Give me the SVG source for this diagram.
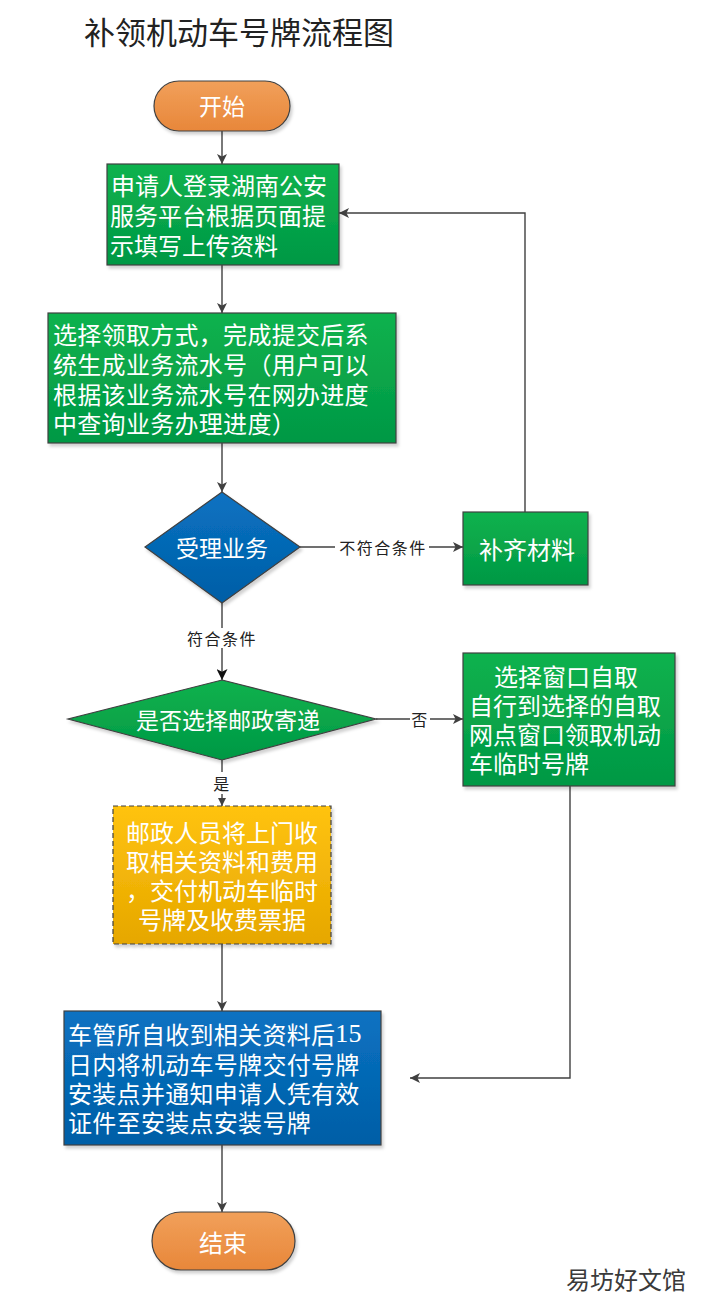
<svg xmlns="http://www.w3.org/2000/svg" width="712" height="1310" viewBox="0 0 712 1310">
<defs>
<linearGradient id="gGreen" x1="0" y1="0" x2="0" y2="1"><stop offset="0" stop-color="#10b24e"/><stop offset="1" stop-color="#009844"/></linearGradient>
<linearGradient id="gBlue" x1="0" y1="0" x2="0" y2="1"><stop offset="0" stop-color="#0a72c2"/><stop offset="1" stop-color="#005ea6"/></linearGradient>
<linearGradient id="gOrange" x1="0" y1="0" x2="0" y2="1"><stop offset="0" stop-color="#f1a05a"/><stop offset="1" stop-color="#e8873a"/></linearGradient>
<linearGradient id="gYellow" x1="0" y1="0" x2="0" y2="1"><stop offset="0" stop-color="#ffc30f"/><stop offset="1" stop-color="#e6a700"/></linearGradient>
<filter id="sh" x="-10%" y="-10%" width="130%" height="130%"><feDropShadow dx="2" dy="3" stdDeviation="1.5" flood-color="#000" flood-opacity="0.18"/></filter>
<marker id="ar" viewBox="0 0 10 10" refX="10" refY="5" markerWidth="10" markerHeight="10" markerUnits="userSpaceOnUse" orient="auto"><path d="M0,0 L10,5 L0,10 L2.5,5 Z" fill="#404040"/></marker>
<marker id="arB" viewBox="0 0 10 10" refX="10" refY="5" markerWidth="11" markerHeight="11" markerUnits="userSpaceOnUse" orient="auto"><path d="M0,0 L10,5 L0,10 L2.5,5 Z" fill="#111"/></marker>
<marker id="arS" viewBox="0 0 10 10" refX="10" refY="5" markerWidth="8" markerHeight="8" markerUnits="userSpaceOnUse" orient="auto"><path d="M0,0 L10,5 L0,10 Z" fill="#404040"/></marker>
</defs>
<style>
.t{font-family:"Noto Sans CJK SC","Liberation Sans",sans-serif;fill:#fff;dominant-baseline:central}
.c{text-anchor:middle}
.box{stroke:#404040;stroke-width:1.2}
.ln{fill:none;stroke:#404040;stroke-width:1.4}
.lb{font-family:"Noto Sans CJK SC","Liberation Sans",sans-serif;fill:#222;font-size:16px;text-anchor:middle;dominant-baseline:central;letter-spacing:1.5px}
</style>
<rect width="712" height="1310" fill="#fff"/>
<text id="title" x="84" y="30" font-family="Noto Sans CJK SC, Liberation Sans, sans-serif" font-size="31" fill="#222" dominant-baseline="central">补领机动车号牌流程图</text>

<g id="connectors">
<line class="ln" x1="222" y1="131" x2="222" y2="164" marker-end="url(#ar)"/>
<line class="ln" x1="222" y1="265" x2="222" y2="313" marker-end="url(#ar)"/>
<line class="ln" x1="222" y1="443" x2="222" y2="492" marker-end="url(#ar)"/>
<line class="ln" x1="300" y1="547" x2="463" y2="547" marker-end="url(#ar)"/>
<rect x="335" y="537" width="94" height="20" fill="#fff"/>
<text class="lb" x="383" y="547">不符合条件</text>
<polyline class="ln" points="525,512 525,213 339,213" marker-end="url(#ar)"/>
<line class="ln" x1="222" y1="603" x2="222" y2="680" stroke="#111" marker-end="url(#arB)"/>
<rect x="184" y="628" width="76" height="20" fill="#fff"/>
<text class="lb" x="222" y="638">符合条件</text>
<line class="ln" x1="376" y1="719" x2="463" y2="719" marker-end="url(#ar)"/>
<rect x="410" y="709" width="20" height="20" fill="#fff"/>
<text class="lb" x="420" y="719">否</text>
<line class="ln" x1="222" y1="760" x2="222" y2="806" marker-end="url(#arS)"/>
<rect x="210" y="772" width="24" height="22" fill="#fff"/>
<text class="lb" x="222" y="783" font-size="18">是</text>
<line class="ln" x1="222" y1="944" x2="222" y2="1011" marker-end="url(#ar)"/>
<polyline class="ln" points="570,786 570,1078 410,1078" marker-end="url(#ar)"/>
<line class="ln" x1="222" y1="1145" x2="222" y2="1212" marker-end="url(#ar)"/>
</g>

<g id="start">
<rect class="box" x="154" y="81" width="136" height="50" rx="25" fill="url(#gOrange)" filter="url(#sh)"/>
<text class="t c" x="222" y="105" font-size="23">开始</text>
</g>

<g id="login">
<rect class="box" x="107" y="164" width="232" height="101" fill="url(#gGreen)" filter="url(#sh)"/>
<text class="t" font-size="24"><tspan x="111" y="184">申请人登录湖南公安</tspan><tspan x="110" y="214">服务平台根据页面提</tspan><tspan x="110" y="244">示填写上传资料</tspan></text>
</g>

<g id="choose">
<rect class="box" x="48" y="313" width="348" height="130" fill="url(#gGreen)" filter="url(#sh)"/>
<text class="t" font-size="24" letter-spacing="0.3"><tspan x="53" y="333">选择领取方式，完成提交后系</tspan><tspan x="53" y="363">统生成业务流水号（用户可以</tspan><tspan x="53" y="393">根据该业务流水号在网办进度</tspan><tspan x="53" y="422">中查询业务办理进度）</tspan></text>
</g>

<g id="accept">
<polygon class="box" points="222,492 300,547 222,603 145,547" fill="url(#gBlue)" filter="url(#sh)"/>
<text class="t c" x="222" y="547" font-size="23">受理业务</text>
</g>

<g id="supplement">
<rect class="box" x="463" y="512" width="125" height="73" fill="url(#gGreen)" filter="url(#sh)"/>
<text class="t c" x="527" y="548" font-size="24">补齐材料</text>
</g>

<g id="postal">
<polygon class="box" points="222,680 376,719 222,760 68,719" fill="url(#gGreen)" filter="url(#sh)"/>
<text class="t c" x="228" y="719" font-size="23">是否选择邮政寄递</text>
</g>

<g id="window">
<rect class="box" x="463" y="653" width="212" height="133" fill="url(#gGreen)" filter="url(#sh)"/>
<text class="t" font-size="24"><tspan x="566" y="675" text-anchor="middle">选择窗口自取</tspan><tspan x="469" y="704">自行到选择的自取</tspan><tspan x="469" y="733">网点窗口领取机动</tspan><tspan x="469" y="762">车临时号牌</tspan></text>
</g>

<g id="postman">
<rect class="box" x="113" y="806" width="218" height="138" fill="url(#gYellow)" stroke-dasharray="5,3" filter="url(#sh)"/>
<text class="t c" font-size="24"><tspan x="222" y="831">邮政人员将上门收</tspan><tspan x="222" y="860">取相关资料和费用</tspan><tspan x="222" y="889">，交付机动车临时</tspan><tspan x="222" y="918">号牌及收费票据</tspan></text>
</g>

<g id="dmv">
<rect class="box" x="64" y="1011" width="317" height="134" fill="url(#gBlue)" filter="url(#sh)"/>
<text class="t" font-size="24" letter-spacing="0.3"><tspan x="68" y="1033">车管所自收到相关资料后<tspan font-family="Liberation Serif, serif" font-size="26">15</tspan></tspan><tspan x="68" y="1063">日内将机动车号牌交付号牌</tspan><tspan x="68" y="1092">安装点并通知申请人凭有效</tspan><tspan x="68" y="1121">证件至安装点安装号牌</tspan></text>
</g>

<g id="end">
<rect class="box" x="152" y="1212" width="143" height="58" rx="29" fill="url(#gOrange)" filter="url(#sh)"/>
<text class="t c" x="223" y="1241" font-size="24">结束</text>
</g>

<text id="watermark" x="566" y="1278" font-family="Noto Sans CJK SC, Liberation Sans, sans-serif" font-size="24" fill="#3a3a3a" stroke="#fff" stroke-width="3" paint-order="stroke" dominant-baseline="central">易坊好文馆</text>
</svg>
